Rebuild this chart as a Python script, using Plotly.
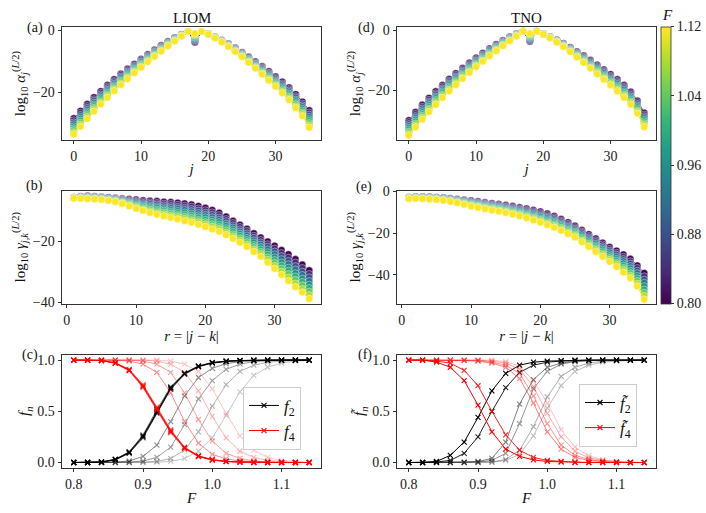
import plotly.graph_objects as go
import plotly.express as px

SERIF = "Liberation Serif, DejaVu Serif, serif"
W, H = 706, 513

# ---- data ----
F_CURVES = [0.80, 0.84, 0.88, 0.92, 0.96, 1.00, 1.04, 1.08, 1.12]
SITES = list(range(36))          # j
DISTANCES = list(range(1, 36))   # r = |j-k|
F_SCAN = [0.80, 0.82, 0.84, 0.86, 0.88, 0.90, 0.92, 0.94, 0.96,
          0.98, 1.00, 1.02, 1.04, 1.06, 1.08, 1.10, 1.12, 1.14]
CBAR_TICKS = [0.80, 0.88, 0.96, 1.04, 1.12]

# log10 alpha_j, one row per j, columns follow F_CURVES
LIOM_ALPHA = [
    [-28.4, -29.0, -29.7, -30.3, -31.0, -31.6, -32.2, -32.9, -33.5],
    [-26.0, -26.6, -27.3, -27.9, -28.5, -29.1, -29.8, -30.4, -31.0],
    [-23.8, -24.4, -25.0, -25.6, -26.2, -26.7, -27.3, -27.9, -28.5],
    [-21.6, -22.2, -22.7, -23.3, -23.9, -24.4, -25.0, -25.5, -26.1],
    [-19.6, -20.1, -20.7, -21.2, -21.7, -22.2, -22.8, -23.3, -23.8],
    [-17.6, -18.1, -18.6, -19.1, -19.6, -20.1, -20.6, -21.1, -21.6],
    [-15.8, -16.3, -16.7, -17.2, -17.7, -18.1, -18.6, -19.0, -19.5],
    [-14.0, -14.4, -14.9, -15.3, -15.8, -16.2, -16.6, -17.1, -17.5],
    [-12.4, -12.8, -13.2, -13.6, -14.0, -14.4, -14.8, -15.2, -15.6],
    [-10.8, -11.2, -11.5, -11.9, -12.3, -12.6, -13.0, -13.3, -13.7],
    [-9.2, -9.5, -9.9, -10.2, -10.6, -10.9, -11.2, -11.6, -11.9],
    [-7.7, -8.0, -8.3, -8.6, -8.9, -9.2, -9.5, -9.8, -10.1],
    [-6.2, -6.5, -6.8, -7.0, -7.3, -7.6, -7.9, -8.1, -8.4],
    [-4.8, -5.0, -5.3, -5.5, -5.8, -6.0, -6.2, -6.5, -6.7],
    [-3.5, -3.7, -3.9, -4.1, -4.3, -4.4, -4.6, -4.8, -5.0],
    [-2.3, -2.4, -2.6, -2.7, -2.9, -3.0, -3.1, -3.3, -3.4],
    [-1.2, -1.3, -1.4, -1.4, -1.5, -1.6, -1.7, -1.7, -1.8],
    [-0.3, -0.3, -0.3, -0.3, -0.3, -0.3, -0.3, -0.3, -0.3],
    [-3.8, -3.5, -3.1, -2.8, -2.4, -2.1, -1.7, -1.4, -1.0],
    [-0.3, -0.3, -0.3, -0.3, -0.3, -0.3, -0.3, -0.3, -0.3],
    [-1.0, -1.0, -1.1, -1.1, -1.1, -1.1, -1.2, -1.2, -1.2],
    [-2.0, -2.1, -2.1, -2.2, -2.2, -2.3, -2.3, -2.4, -2.4],
    [-3.1, -3.2, -3.3, -3.3, -3.4, -3.5, -3.6, -3.6, -3.7],
    [-4.3, -4.4, -4.5, -4.6, -4.8, -4.9, -5.0, -5.1, -5.2],
    [-5.6, -5.8, -5.9, -6.1, -6.2, -6.4, -6.5, -6.7, -6.8],
    [-7.0, -7.2, -7.4, -7.6, -7.8, -7.9, -8.1, -8.3, -8.5],
    [-8.5, -8.7, -9.0, -9.2, -9.4, -9.6, -9.9, -10.1, -10.3],
    [-10.0, -10.3, -10.6, -10.8, -11.1, -11.4, -11.7, -11.9, -12.2],
    [-11.6, -11.9, -12.2, -12.5, -12.9, -13.2, -13.5, -13.8, -14.1],
    [-13.2, -13.6, -13.9, -14.3, -14.7, -15.0, -15.4, -15.7, -16.1],
    [-14.9, -15.3, -15.7, -16.1, -16.5, -16.9, -17.3, -17.7, -18.1],
    [-16.6, -17.1, -17.5, -18.0, -18.4, -18.9, -19.3, -19.8, -20.2],
    [-18.4, -18.9, -19.4, -19.9, -20.4, -20.9, -21.4, -21.9, -22.4],
    [-20.6, -21.2, -21.7, -22.3, -22.8, -23.4, -23.9, -24.5, -25.0],
    [-23.0, -23.6, -24.2, -24.7, -25.3, -25.9, -26.5, -27.0, -27.6],
    [-25.8, -26.5, -27.2, -27.9, -28.6, -29.2, -29.9, -30.6, -31.3],
]

# log10 gamma_{j,k}, one row per r
LIOM_GAMMA = [
    [-5.5, -5.5, -5.6, -5.6, -5.7, -5.7, -5.7, -5.8, -5.8],
    [-5.2, -5.3, -5.4, -5.5, -5.6, -5.6, -5.7, -5.8, -5.9],
    [-5.0, -5.1, -5.3, -5.4, -5.5, -5.6, -5.8, -5.9, -6.0],
    [-5.2, -5.3, -5.4, -5.5, -5.7, -5.8, -5.9, -6.0, -6.1],
    [-5.4, -5.5, -5.6, -5.7, -5.9, -6.0, -6.1, -6.2, -6.3],
    [-5.5, -5.6, -5.8, -5.9, -6.1, -6.2, -6.3, -6.5, -6.6],
    [-5.7, -5.9, -6.0, -6.2, -6.4, -6.5, -6.7, -6.8, -7.0],
    [-5.9, -6.1, -6.3, -6.5, -6.8, -7.0, -7.2, -7.4, -7.6],
    [-6.1, -6.4, -6.7, -7.0, -7.3, -7.5, -7.8, -8.1, -8.4],
    [-6.3, -6.7, -7.0, -7.4, -7.8, -8.1, -8.5, -8.8, -9.2],
    [-6.5, -6.9, -7.4, -7.8, -8.2, -8.6, -9.1, -9.5, -9.9],
    [-6.7, -7.2, -7.7, -8.2, -8.7, -9.1, -9.6, -10.1, -10.6],
    [-6.8, -7.4, -7.9, -8.5, -9.0, -9.6, -10.1, -10.7, -11.2],
    [-7.0, -7.6, -8.2, -8.8, -9.4, -9.9, -10.5, -11.1, -11.7],
    [-7.1, -7.7, -8.4, -9.0, -9.7, -10.3, -10.9, -11.6, -12.2],
    [-7.3, -8.0, -8.7, -9.3, -10.0, -10.7, -11.4, -12.0, -12.7],
    [-7.6, -8.3, -9.0, -9.7, -10.5, -11.2, -11.9, -12.6, -13.3],
    [-7.9, -8.6, -9.4, -10.1, -10.9, -11.6, -12.3, -13.1, -13.8],
    [-8.4, -9.2, -9.9, -10.7, -11.5, -12.2, -13.0, -13.7, -14.5],
    [-9.0, -9.8, -10.6, -11.3, -12.1, -12.9, -13.7, -14.4, -15.2],
    [-9.7, -10.5, -11.3, -12.1, -12.9, -13.6, -14.4, -15.2, -16.0],
    [-10.6, -11.4, -12.2, -12.9, -13.7, -14.5, -15.3, -16.0, -16.8],
    [-11.9, -12.7, -13.4, -14.2, -14.9, -15.7, -16.4, -17.2, -17.9],
    [-13.3, -14.0, -14.8, -15.5, -16.2, -16.9, -17.7, -18.4, -19.1],
    [-14.6, -15.3, -16.1, -16.8, -17.5, -18.2, -19.0, -19.7, -20.4],
    [-15.9, -16.6, -17.4, -18.1, -18.9, -19.6, -20.3, -21.1, -21.8],
    [-17.4, -18.2, -18.9, -19.7, -20.4, -21.2, -21.9, -22.7, -23.4],
    [-18.8, -19.6, -20.4, -21.1, -21.9, -22.7, -23.5, -24.2, -25.0],
    [-20.1, -21.0, -21.8, -22.7, -23.6, -24.4, -25.3, -26.1, -27.0],
    [-21.5, -22.4, -23.4, -24.3, -25.3, -26.2, -27.1, -28.1, -29.0],
    [-22.9, -23.9, -24.9, -25.9, -27.0, -28.0, -29.0, -30.0, -31.0],
    [-24.3, -25.4, -26.5, -27.6, -28.7, -29.7, -30.8, -31.9, -33.0],
    [-25.9, -27.0, -28.2, -29.3, -30.5, -31.6, -32.7, -33.9, -35.0],
    [-27.7, -28.8, -30.0, -31.1, -32.3, -33.4, -34.5, -35.7, -36.8],
    [-29.6, -30.8, -31.9, -33.1, -34.3, -35.4, -36.6, -37.7, -38.9],
]

TNO_ALPHA = [
    [-29.9, -30.5, -31.2, -31.8, -32.4, -33.0, -33.7, -34.3, -34.9],
    [-27.2, -27.8, -28.5, -29.1, -29.7, -30.3, -31.0, -31.6, -32.2],
    [-24.8, -25.4, -26.0, -26.6, -27.2, -27.8, -28.4, -29.0, -29.6],
    [-22.5, -23.1, -23.7, -24.2, -24.8, -25.4, -26.0, -26.5, -27.1],
    [-20.3, -20.9, -21.4, -22.0, -22.5, -23.1, -23.6, -24.2, -24.7],
    [-18.2, -18.7, -19.3, -19.8, -20.3, -20.8, -21.4, -21.9, -22.4],
    [-16.2, -16.7, -17.2, -17.7, -18.2, -18.7, -19.2, -19.7, -20.2],
    [-14.3, -14.8, -15.3, -15.7, -16.2, -16.7, -17.2, -17.6, -18.1],
    [-12.5, -12.9, -13.4, -13.8, -14.3, -14.7, -15.1, -15.6, -16.0],
    [-10.8, -11.2, -11.6, -12.0, -12.4, -12.8, -13.2, -13.6, -14.0],
    [-9.1, -9.5, -9.9, -10.2, -10.6, -11.0, -11.4, -11.7, -12.1],
    [-7.5, -7.9, -8.2, -8.6, -8.9, -9.3, -9.6, -10.0, -10.3],
    [-6.0, -6.3, -6.6, -6.9, -7.3, -7.6, -7.9, -8.2, -8.5],
    [-4.6, -4.9, -5.2, -5.4, -5.7, -6.0, -6.3, -6.5, -6.8],
    [-3.3, -3.5, -3.8, -4.0, -4.2, -4.4, -4.7, -4.9, -5.1],
    [-2.1, -2.3, -2.5, -2.6, -2.8, -3.0, -3.2, -3.3, -3.5],
    [-1.1, -1.2, -1.3, -1.4, -1.5, -1.6, -1.7, -1.8, -1.9],
    [-0.3, -0.3, -0.3, -0.3, -0.3, -0.3, -0.3, -0.3, -0.3],
    [-3.6, -3.3, -3.0, -2.6, -2.3, -2.0, -1.7, -1.3, -1.0],
    [-0.3, -0.3, -0.3, -0.3, -0.3, -0.3, -0.3, -0.3, -0.3],
    [-1.0, -1.0, -1.1, -1.1, -1.2, -1.2, -1.2, -1.3, -1.3],
    [-2.0, -2.1, -2.1, -2.2, -2.3, -2.3, -2.4, -2.4, -2.5],
    [-3.1, -3.2, -3.3, -3.4, -3.5, -3.6, -3.7, -3.8, -3.9],
    [-4.3, -4.4, -4.6, -4.7, -4.9, -5.0, -5.1, -5.3, -5.4],
    [-5.6, -5.8, -6.0, -6.2, -6.4, -6.5, -6.7, -6.9, -7.1],
    [-7.0, -7.2, -7.5, -7.7, -8.0, -8.2, -8.4, -8.7, -8.9],
    [-8.4, -8.7, -9.0, -9.3, -9.6, -9.8, -10.1, -10.4, -10.7],
    [-9.9, -10.2, -10.6, -10.9, -11.3, -11.6, -11.9, -12.3, -12.6],
    [-11.4, -11.8, -12.2, -12.6, -13.0, -13.3, -13.7, -14.1, -14.5],
    [-13.0, -13.4, -13.8, -14.2, -14.7, -15.1, -15.5, -15.9, -16.3],
    [-14.6, -15.1, -15.5, -16.0, -16.4, -16.9, -17.3, -17.8, -18.2],
    [-16.3, -16.8, -17.3, -17.8, -18.3, -18.7, -19.2, -19.7, -20.2],
    [-18.2, -18.7, -19.2, -19.7, -20.3, -20.8, -21.3, -21.8, -22.3],
    [-20.4, -20.9, -21.5, -22.0, -22.5, -23.0, -23.6, -24.1, -24.6],
    [-23.4, -23.9, -24.5, -25.0, -25.5, -26.0, -26.6, -27.1, -27.6],
    [-27.4, -28.0, -28.6, -29.2, -29.8, -30.3, -30.9, -31.5, -32.1],
]

TNO_GAMMA = [
    [-2.8, -2.9, -3.0, -3.1, -3.2, -3.2, -3.3, -3.4, -3.5],
    [-2.5, -2.6, -2.7, -2.8, -3.0, -3.1, -3.2, -3.3, -3.4],
    [-2.5, -2.6, -2.8, -2.9, -3.0, -3.1, -3.3, -3.4, -3.5],
    [-2.6, -2.7, -2.9, -3.0, -3.2, -3.3, -3.4, -3.6, -3.7],
    [-2.8, -2.9, -3.1, -3.2, -3.4, -3.5, -3.6, -3.8, -3.9],
    [-3.0, -3.2, -3.3, -3.5, -3.7, -3.8, -4.0, -4.1, -4.3],
    [-3.3, -3.5, -3.7, -3.9, -4.1, -4.2, -4.4, -4.6, -4.8],
    [-3.7, -3.9, -4.2, -4.4, -4.6, -4.8, -5.1, -5.3, -5.5],
    [-4.0, -4.3, -4.6, -4.9, -5.2, -5.4, -5.7, -6.0, -6.3],
    [-4.4, -4.7, -5.1, -5.4, -5.8, -6.1, -6.4, -6.8, -7.1],
    [-4.8, -5.2, -5.5, -5.9, -6.3, -6.6, -7.0, -7.3, -7.7],
    [-5.2, -5.6, -6.0, -6.4, -6.8, -7.2, -7.6, -8.0, -8.4],
    [-5.7, -6.1, -6.5, -6.9, -7.4, -7.8, -8.2, -8.6, -9.0],
    [-6.1, -6.5, -7.0, -7.4, -7.9, -8.3, -8.7, -9.2, -9.6],
    [-6.6, -7.1, -7.5, -8.0, -8.4, -8.9, -9.3, -9.8, -10.2],
    [-7.1, -7.6, -8.1, -8.6, -9.1, -9.5, -10.0, -10.5, -11.0],
    [-7.7, -8.2, -8.7, -9.2, -9.8, -10.3, -10.8, -11.3, -11.8],
    [-8.3, -8.9, -9.4, -10.0, -10.6, -11.1, -11.7, -12.2, -12.8],
    [-9.0, -9.6, -10.2, -10.8, -11.4, -12.0, -12.6, -13.2, -13.8],
    [-9.7, -10.4, -11.0, -11.7, -12.3, -13.0, -13.6, -14.3, -14.9],
    [-10.7, -11.4, -12.1, -12.7, -13.4, -14.1, -14.8, -15.4, -16.1],
    [-11.8, -12.5, -13.2, -13.9, -14.6, -15.2, -15.9, -16.6, -17.3],
    [-13.3, -14.0, -14.7, -15.4, -16.1, -16.7, -17.4, -18.1, -18.8],
    [-14.9, -15.6, -16.3, -17.0, -17.7, -18.3, -19.0, -19.7, -20.4],
    [-16.5, -17.2, -17.9, -18.6, -19.3, -19.9, -20.6, -21.3, -22.0],
    [-18.6, -19.3, -20.0, -20.7, -21.5, -22.2, -22.9, -23.6, -24.3],
    [-20.6, -21.4, -22.1, -22.9, -23.6, -24.4, -25.1, -25.9, -26.6],
    [-22.7, -23.5, -24.3, -25.1, -25.9, -26.6, -27.4, -28.2, -29.0],
    [-24.7, -25.5, -26.4, -27.2, -28.0, -28.8, -29.7, -30.5, -31.3],
    [-26.7, -27.6, -28.5, -29.3, -30.2, -31.1, -32.0, -32.8, -33.7],
    [-28.5, -29.5, -30.4, -31.4, -32.4, -33.3, -34.3, -35.2, -36.2],
    [-30.3, -31.4, -32.5, -33.5, -34.6, -35.7, -36.8, -37.8, -38.9],
    [-32.4, -33.6, -34.7, -35.9, -37.0, -38.2, -39.3, -40.5, -41.6],
    [-35.6, -36.8, -38.1, -39.3, -40.6, -41.8, -43.0, -44.3, -45.5],
    [-39.2, -40.8, -42.4, -43.9, -45.5, -47.1, -48.7, -50.2, -51.8],
]

# f_2 / f_4 against F (LIOM), darkest curve first
LIOM_F2 = [
    [0, 0, 0.005, 0.03, 0.10, 0.26, 0.50, 0.73, 0.87, 0.94, 0.975, 0.99, 0.995, 1, 1, 1, 1, 1],
    [0, 0, 0.004, 0.027, 0.095, 0.25, 0.49, 0.72, 0.865, 0.937, 0.972, 0.988, 0.995, 0.998, 1, 1, 1, 1],
    [0, 0, 0.004, 0.025, 0.09, 0.24, 0.48, 0.715, 0.86, 0.935, 0.97, 0.986, 0.994, 0.997, 1, 1, 1, 1],
    [0, 0, 0.006, 0.033, 0.105, 0.27, 0.515, 0.74, 0.875, 0.943, 0.977, 0.99, 0.996, 1, 1, 1, 1, 1],
    [0, 0, 0, 0.003, 0.015, 0.06, 0.17, 0.40, 0.65, 0.83, 0.92, 0.965, 0.985, 0.995, 1, 1, 1, 1],
    [0, 0, 0, 0, 0.003, 0.015, 0.05, 0.15, 0.37, 0.62, 0.80, 0.91, 0.96, 0.985, 0.995, 1, 1, 1],
    [0, 0, 0, 0, 0, 0.003, 0.01, 0.04, 0.12, 0.30, 0.55, 0.76, 0.89, 0.95, 0.98, 0.99, 0.997, 1],
    [0, 0, 0, 0, 0, 0, 0.003, 0.01, 0.04, 0.11, 0.24, 0.46, 0.69, 0.85, 0.93, 0.97, 0.99, 0.995],
]
LIOM_F4 = [
    [1, 1, 0.995, 0.97, 0.90, 0.74, 0.52, 0.30, 0.14, 0.06, 0.025, 0.01, 0.005, 0, 0, 0, 0, 0],
    [1, 1, 0.996, 0.973, 0.905, 0.75, 0.53, 0.31, 0.145, 0.063, 0.027, 0.011, 0.005, 0.002, 0, 0, 0, 0],
    [1, 1, 0.996, 0.975, 0.91, 0.76, 0.54, 0.32, 0.15, 0.066, 0.028, 0.012, 0.005, 0.002, 0, 0, 0, 0],
    [1, 1, 0.994, 0.967, 0.895, 0.73, 0.51, 0.29, 0.135, 0.057, 0.023, 0.009, 0.004, 0, 0, 0, 0, 0],
    [1, 1, 1, 1, 0.99, 0.96, 0.88, 0.68, 0.40, 0.19, 0.08, 0.035, 0.015, 0.006, 0, 0, 0, 0],
    [1, 1, 1, 1, 1, 0.99, 0.96, 0.88, 0.68, 0.42, 0.21, 0.09, 0.04, 0.015, 0.006, 0, 0, 0],
    [1, 1, 1, 1, 1, 1, 0.99, 0.96, 0.88, 0.70, 0.45, 0.24, 0.11, 0.05, 0.02, 0.008, 0, 0],
    [1, 1, 1, 1, 1, 1, 1, 0.99, 0.96, 0.89, 0.72, 0.48, 0.26, 0.12, 0.05, 0.02, 0.008, 0.003],
]
LIOM_OPACITY = [1.0, 0.8, 0.65, 0.55, 0.45, 0.38, 0.3, 0.22]

# tilde f_2 / f_4 against F (TNO)
TNO_F2 = [
    [0, 0, 0.01, 0.07, 0.20, 0.44, 0.70, 0.87, 0.95, 0.98, 0.99, 0.995, 1, 1, 1, 1, 1, 1],
    [0, 0, 0.005, 0.02, 0.09, 0.25, 0.50, 0.73, 0.88, 0.95, 0.98, 0.99, 0.996, 1, 1, 1, 1, 1],
    [0, 0, 0, 0, 0.003, 0.01, 0.04, 0.20, 0.57, 0.81, 0.93, 0.97, 0.99, 0.995, 1, 1, 1, 1],
    [0, 0, 0, 0, 0, 0.005, 0.02, 0.09, 0.38, 0.72, 0.89, 0.96, 0.985, 0.995, 1, 1, 1, 1],
    [0, 0, 0, 0, 0, 0, 0.005, 0.03, 0.12, 0.35, 0.64, 0.84, 0.93, 0.97, 0.99, 0.995, 1, 1],
    [0, 0, 0, 0, 0, 0, 0.003, 0.02, 0.08, 0.26, 0.53, 0.75, 0.89, 0.95, 0.98, 0.99, 0.995, 1],
]
TNO_F4 = [
    [1, 1, 0.98, 0.93, 0.80, 0.56, 0.30, 0.13, 0.06, 0.025, 0.01, 0.005, 0, 0, 0, 0, 0, 0],
    [1, 1, 0.99, 0.97, 0.90, 0.75, 0.50, 0.27, 0.12, 0.05, 0.02, 0.01, 0.004, 0, 0, 0, 0, 0],
    [1, 1, 1, 1, 0.995, 0.99, 0.97, 0.93, 0.82, 0.58, 0.30, 0.13, 0.05, 0.02, 0.007, 0, 0, 0],
    [1, 1, 1, 1, 1, 0.995, 0.98, 0.95, 0.87, 0.65, 0.38, 0.17, 0.07, 0.03, 0.01, 0.004, 0, 0],
    [1, 1, 1, 1, 1, 1, 0.99, 0.97, 0.91, 0.74, 0.48, 0.25, 0.11, 0.045, 0.02, 0.007, 0, 0],
    [1, 1, 1, 1, 1, 1, 1, 0.985, 0.94, 0.80, 0.58, 0.32, 0.15, 0.065, 0.025, 0.01, 0.004, 0],
]
TNO_OPACITY = [1.0, 0.85, 0.5, 0.42, 0.33, 0.25]


def px_x(x):
    return x / W


def px_y(y):
    return 1 - y / H


COL1 = [px_x(62), px_x(321)]
COL2 = [px_x(397), px_x(656)]
ROW1 = [px_y(137), px_y(22)]
ROW2 = [px_y(305), px_y(189)]
ROW3 = [px_y(473), px_y(357)]

fig = go.Figure()


def viridis(f):
    t = min(1.0, max(0.0, round((f - 0.80) / 0.32, 6)))
    return px.colors.sample_colorscale("Viridis", [t])[0]


def add_stack(table, xs, xa, ya):
    for k, f in enumerate(F_CURVES):
        c = viridis(f)
        fig.add_trace(go.Scatter(
            x=xs, y=[row[k] for row in table],
            mode="lines+markers",
            line=dict(color=c, width=1),
            marker=dict(color=c, size=7.2, line=dict(color="white", width=0.4)),
            xaxis=xa, yaxis=ya, showlegend=False, hoverinfo="skip",
        ))


def add_scan(curves, opac, color, name, legend, xa, ya):
    for i in reversed(range(len(curves))):
        fig.add_trace(go.Scatter(
            x=F_SCAN, y=curves[i],
            mode="lines+markers",
            line=dict(color=color, width=1.0),
            marker=dict(symbol="x-thin", size=5, color=color,
                        line=dict(color=color, width=1.1)),
            opacity=opac[i],
            name=name, legend=legend, showlegend=(i == 0),
            xaxis=xa, yaxis=ya, hoverinfo="skip",
        ))


add_stack(LIOM_ALPHA, SITES, "x", "y")
add_stack(LIOM_GAMMA, DISTANCES, "x2", "y2")
add_stack(TNO_ALPHA, SITES, "x4", "y4")
add_stack(TNO_GAMMA, DISTANCES, "x5", "y5")

add_scan(LIOM_F2, LIOM_OPACITY, "#000000", "<i>f</i><sub>2</sub>", "legend", "x3", "y3")
add_scan(LIOM_F4, LIOM_OPACITY, "#ff0000", "<i>f</i><sub>4</sub>", "legend", "x3", "y3")
add_scan(TNO_F2, TNO_OPACITY, "#000000", "<i>f̃</i><sub>2</sub>", "legend2", "x6", "y6")
add_scan(TNO_F4, TNO_OPACITY, "#ff0000", "<i>f̃</i><sub>4</sub>", "legend2", "x6", "y6")

# colour bar carrier (point lies outside the visible range)
fig.add_trace(go.Scatter(
    x=[-100], y=[-100], mode="markers", hoverinfo="skip", showlegend=False,
    marker=dict(size=1, color=[0.8], colorscale="Viridis", cmin=0.80, cmax=1.12,
                showscale=True,
                colorbar=dict(
                    x=px_x(661), xanchor="left", y=px_y(21), yanchor="top",
                    len=284 / H, lenmode="fraction",
                    thickness=10, thicknessmode="pixels",
                    xpad=0, ypad=0,
                    outlinewidth=0.8, outlinecolor="#333",
                    tickvals=CBAR_TICKS, ticktext=[f"{v:.2f}" for v in CBAR_TICKS],
                    ticks="outside", ticklen=3, tickcolor="#333",
                    tickfont=dict(family=SERIF, size=14, color="#222"),
                )),
))


def axis(domain, rng, anchor, **kw):
    d = dict(
        domain=domain, range=rng, anchor=anchor,
        showline=True, mirror=True, linecolor="#333", linewidth=1,
        ticks="outside", ticklen=3.5, tickwidth=0.8, tickcolor="#333",
        showgrid=False, zeroline=False,
        tickfont=dict(family=SERIF, size=14, color="#222"),
    )
    d.update(kw)
    return d


def title(text, standoff):
    return dict(text=text, standoff=standoff, font=dict(family=SERIF, size=15, color="#111"))


ALPHA_T = "log<sub>10</sub> <i>α</i><sub><i>j</i></sub><sup>(<i>L</i>/2)</sup>"
GAMMA_T = "log<sub>10</sub> <i>γ</i><sub><i>j,k</i></sub><sup>(<i>L</i>/2)</sup>"
LEG = dict(xanchor="left", yanchor="top", bgcolor="rgba(255,255,255,0.8)",
           bordercolor="#cccccc", borderwidth=1, itemwidth=30,
           font=dict(family=SERIF, size=17, color="#111"), tracegroupgap=0)

fig.update_layout(
    width=W, height=H,
    margin=dict(l=0, r=0, t=0, b=0),
    paper_bgcolor="white", plot_bgcolor="white",
    font=dict(family=SERIF, color="#111"),
    xaxis=axis(COL1, [-1.75, 36.75], "y", dtick=10, title=title("<i>j</i>", 0)),
    yaxis=axis(ROW1, [-35.3, 1.0], "x", dtick=20, title=title(ALPHA_T, 3)),
    xaxis2=axis(COL1, [-0.7, 36.7], "y2", dtick=10, title=title("<i>r</i> = |<i>j</i> − <i>k</i>|", 0)),
    yaxis2=axis(ROW2, [-40.6, -3.3], "x2", dtick=20, title=title(GAMMA_T, 3)),
    xaxis3=axis(COL1, [0.783, 1.157], "y3", tickvals=[0.8, 0.9, 1.0, 1.1], tickformat=".1f",
                title=title("<i>F</i>", 1)),
    yaxis3=axis(ROW3, [-0.053, 1.053], "x3", tickvals=[0, 0.5, 1.0], tickformat=".1f",
                title=title("<i>f<sub>n</sub></i>", 3)),
    xaxis4=axis(COL2, [-1.75, 36.75], "y4", dtick=10, title=title("<i>j</i>", 0)),
    yaxis4=axis(ROW1, [-36.4, 1.0], "x4", dtick=20, title=title(ALPHA_T, 3)),
    xaxis5=axis(COL2, [-0.7, 36.7], "y5", dtick=10, title=title("<i>r</i> = |<i>j</i> − <i>k</i>|", 0)),
    yaxis5=axis(ROW2, [-54.0, 0.4], "x5", dtick=20, title=title(GAMMA_T, 3)),
    xaxis6=axis(COL2, [0.783, 1.157], "y6", tickvals=[0.8, 0.9, 1.0, 1.1], tickformat=".1f",
                title=title("<i>F</i>", 1)),
    yaxis6=axis(ROW3, [-0.053, 1.053], "x6", tickvals=[0, 0.5, 1.0], tickformat=".1f",
                title=title("<i>f̃<sub>n</sub></i>", 3)),
    legend=dict(x=px_x(243), y=px_y(390), **LEG),
    legend2=dict(x=px_x(579), y=px_y(387), **LEG),
)

labels = [
    ("LIOM", 191.5, 12, 15), ("TNO", 526.5, 12, 15), ("<i>F</i>", 667, 9, 15),
    ("(a)", 35, 23, 14), ("(b)", 34, 184, 14), ("(c)", 30, 357, 14),
    ("(d)", 366, 23, 14), ("(e)", 364, 185, 14), ("(f)", 365, 357, 14),
]
for text, x, y, size in labels:
    fig.add_annotation(text=text, x=px_x(x), y=px_y(y), xref="paper", yref="paper",
                       showarrow=False, xanchor="center", yanchor="middle",
                       font=dict(family=SERIF, size=size, color="#111"))

fig.write_html("out.html", config={"displayModeBar": False},
               post_script="document.body.style.margin='0px';")
